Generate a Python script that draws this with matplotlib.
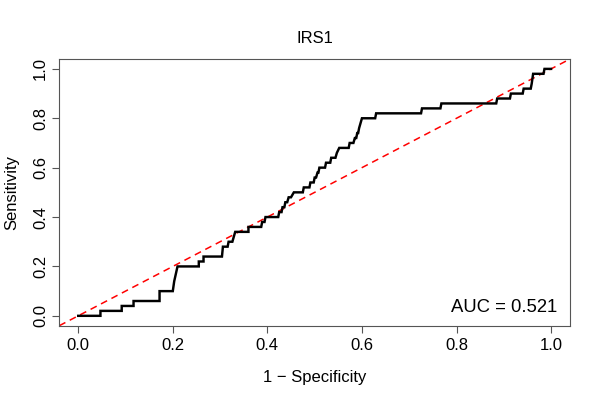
import matplotlib
matplotlib.use("Agg")
import matplotlib.pyplot as plt

# ROC curve vertices (1 - specificity, sensitivity)
fpr = [0.000, 0.047, 0.047, 0.092, 0.092, 0.117, 0.117, 0.172, 0.172, 0.200, 0.203, 0.210,
       0.255, 0.255, 0.265, 0.265, 0.304, 0.306, 0.316, 0.318, 0.326, 0.332,
       0.360, 0.360, 0.387, 0.389, 0.394, 0.396,
       0.423, 0.425, 0.430, 0.432, 0.436, 0.438, 0.442, 0.445, 0.450, 0.456,
       0.475, 0.477, 0.489, 0.491, 0.498, 0.500, 0.503, 0.506, 0.508, 0.510,
       0.522, 0.524, 0.533, 0.535, 0.544, 0.547, 0.552,
       0.572, 0.574, 0.582, 0.585, 0.588, 0.590, 0.592, 0.594, 0.597, 0.600,
       0.628, 0.630, 0.725, 0.727, 0.766, 0.768, 0.884, 0.886, 0.913, 0.915,
       0.940, 0.942, 0.957, 0.959, 0.962, 0.984, 0.986, 1.000]
tpr = [0.00, 0.00, 0.02, 0.02, 0.04, 0.04, 0.06, 0.06, 0.10, 0.10, 0.14, 0.20,
       0.20, 0.22, 0.22, 0.24, 0.24, 0.28, 0.28, 0.30, 0.30, 0.34,
       0.34, 0.36, 0.36, 0.38, 0.38, 0.40,
       0.40, 0.42, 0.42, 0.44, 0.44, 0.46, 0.46, 0.48, 0.48, 0.50,
       0.50, 0.52, 0.52, 0.54, 0.54, 0.56, 0.56, 0.58, 0.58, 0.60,
       0.60, 0.62, 0.62, 0.64, 0.64, 0.66, 0.68,
       0.68, 0.70, 0.70, 0.72, 0.72, 0.74, 0.74, 0.76, 0.78, 0.80,
       0.80, 0.82, 0.82, 0.84, 0.84, 0.86, 0.86, 0.88, 0.88, 0.90,
       0.90, 0.92, 0.92, 0.94, 0.98, 0.98, 1.00, 1.00]

ticks = [0.0, 0.2, 0.4, 0.6, 0.8, 1.0]
tick_labels = ["0.0", "0.2", "0.4", "0.6", "0.8", "1.0"]
title = "IRS1"
auc_text = "AUC = 0.521"

plt.rcParams['font.family'] = ['Liberation Sans', 'DejaVu Sans']

fig = plt.figure(figsize=(6, 4), dpi=100)
ax = fig.add_axes([59.3/600, (400-325.7)/400, (570-59.3)/600, (325.7-59)/400])

ax.set_xlim(-0.04, 1.04)
ax.set_ylim(-0.04, 1.04)

ax.plot([-0.04, 1.04], [-0.04, 1.04], color='red', lw=1.1, dashes=(4.5, 3.2), zorder=2)
ax.plot(fpr, tpr, color='black', lw=1.75, solid_joinstyle='miter', zorder=3)

ax.set_xticks(ticks)
ax.set_xticklabels(tick_labels)
ax.set_yticks(ticks)
ax.set_yticklabels(tick_labels, rotation=90, va='center')

for s in ax.spines.values():
    s.set_color('#555555')
    s.set_linewidth(0.8)
ax.tick_params(axis='both', direction='out', length=5.0, width=0.8, color='#555555',
               labelsize=12, labelcolor='black', pad=3.0)
ax.tick_params(axis='x', pad=4.0)

ax.set_xlabel("1 \u2212 Specificity", fontsize=12, labelpad=12)
ax.set_ylabel("Sensitivity", fontsize=12, labelpad=10)
ax.set_title(title, fontsize=12, pad=11.5)

ax.text(1.013, 0.014, auc_text, ha='right', va='baseline', fontsize=13.3)

fig.savefig("out.png", dpi=100)
